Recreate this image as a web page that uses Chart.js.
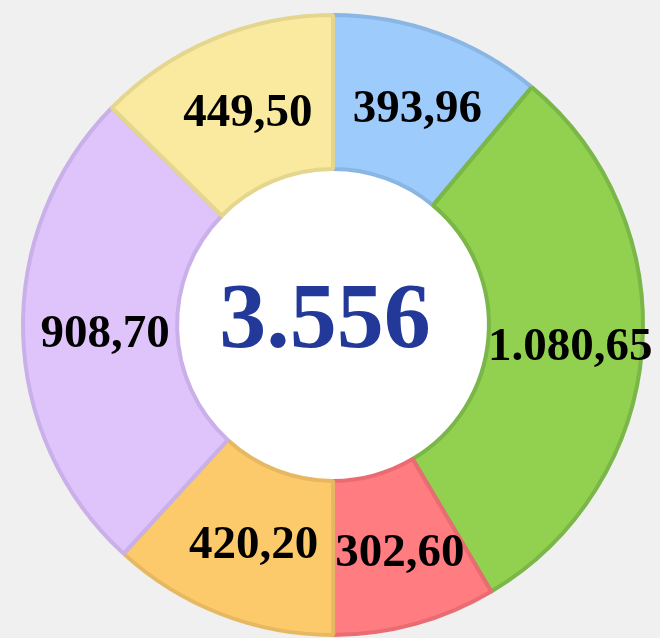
<!DOCTYPE html>
<html>
<head>
<meta charset="utf-8">
<script src="https://cdn.jsdelivr.net/npm/chart.js@4/dist/chart.umd.min.js"></script>
<style>
  html, body { margin: 0; padding: 0; background: #f0f0f0; }
  #wrap { width: 660px; height: 638px; }
</style>
</head>
<body>
<div id="wrap"><canvas id="c" width="660" height="638"></canvas></div>
<script>
const categories = ['Azul', 'Verde', 'Rojo', 'Naranja', 'Morado', 'Amarillo'];
const values = [393.96, 1080.65, 302.60, 420.20, 908.70, 449.50];
const fillColors = ['#9dcbfb', '#92d050', '#ff7c80', '#fdca6b', '#dfc4fc', '#f9eaa0'];
const borderColors = ['#8ab6e4', '#7ab648', '#e86c72', '#e6b862', '#c9b0e8', '#e4d68c'];

const fmt2 = v => v.toLocaleString('de-DE', { minimumFractionDigits: 2, maximumFractionDigits: 2 });
const total = values.reduce((a, b) => a + b, 0);
const totalLabel = Math.round(total).toLocaleString('de-DE');

const centerPlugin = {
  id: 'center',
  beforeDatasetsDraw(chart) {
    const arc = chart.getDatasetMeta(0).data[0];
    if (!arc) return;
    const { x, y, innerRadius } = arc.getProps(['x', 'y', 'innerRadius'], true);
    const ctx = chart.ctx;
    ctx.save();
    ctx.beginPath();
    ctx.arc(x, y, innerRadius, 0, Math.PI * 2);
    ctx.fillStyle = '#ffffff';
    ctx.fill();
    ctx.restore();
  },
  afterDatasetsDraw(chart) {
    const meta = chart.getDatasetMeta(0);
    const ctx = chart.ctx;
    ctx.save();
    ctx.textAlign = 'center';
    ctx.textBaseline = 'middle';
    ctx.fillStyle = '#000000';
    ctx.font = 'bold 47px "Liberation Serif", "Times New Roman", serif';
    meta.data.forEach((arc, i) => {
      const p = arc.tooltipPosition(true);
      ctx.fillText(fmt2(values[i]), p.x + 5, p.y + 4);
    });
    const a0 = meta.data[0];
    const { x, y } = a0.getProps(['x', 'y'], true);
    ctx.fillStyle = '#22399a';
    ctx.font = 'bold 94px "Liberation Serif", "Times New Roman", serif';
    ctx.fillText(totalLabel, x - 8, y - 2);
    ctx.restore();
  }
};

new Chart(document.getElementById('c'), {
  type: 'doughnut',
  data: {
    labels: categories,
    datasets: [{
      data: values,
      backgroundColor: fillColors,
      borderColor: borderColors,
      borderWidth: 4,
      hoverOffset: 0,
      offset: 0
    }]
  },
  options: {
    responsive: false,
    animation: false,
    cutout: '50.3%',
    layout: { padding: { top: 13, bottom: 1, left: 6, right: 0 } },
    plugins: {
      legend: { display: false },
      tooltip: { enabled: false }
    }
  },
  plugins: [centerPlugin]
});
</script>
</body>
</html>
